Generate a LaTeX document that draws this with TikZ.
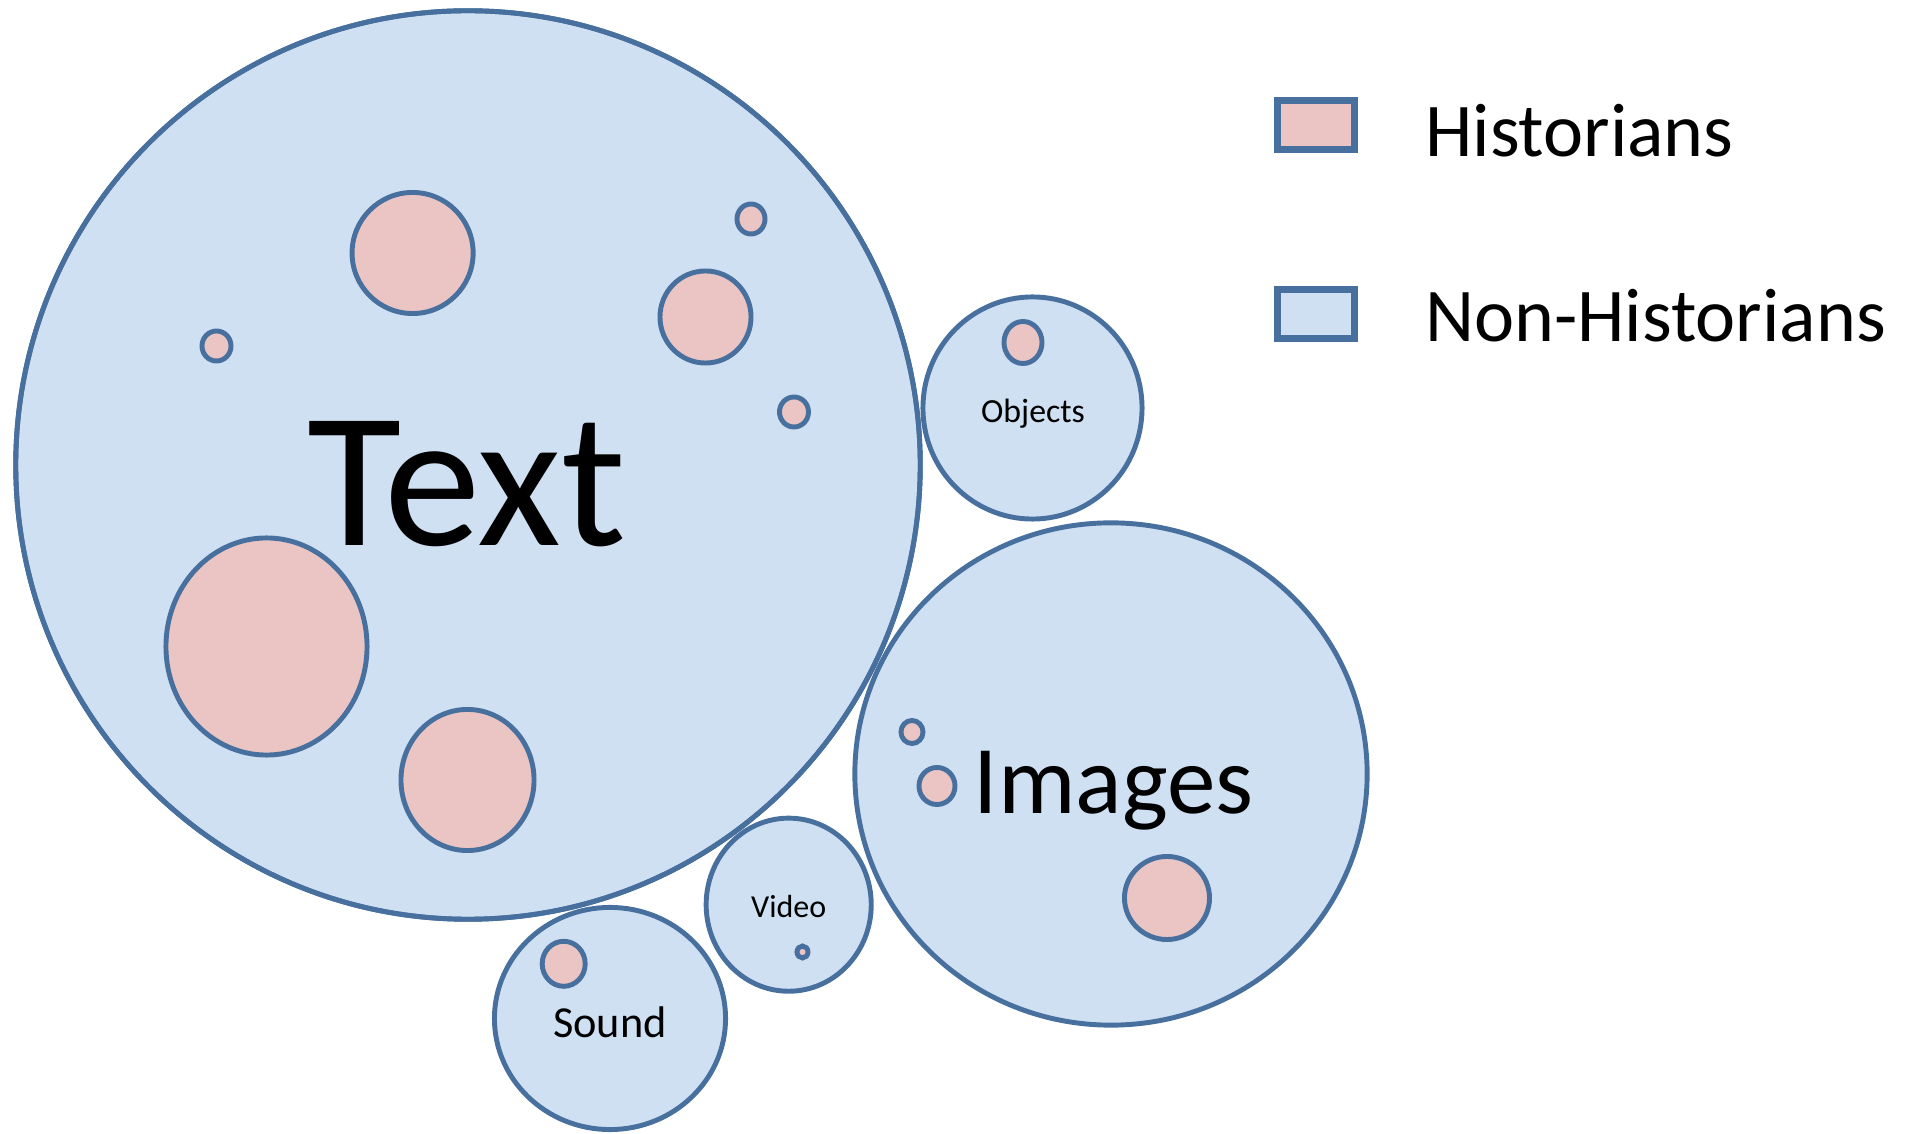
\documentclass[tikz,border=0pt]{standalone}
\usepackage{fontspec}
\setmainfont{Carlito}
\usetikzlibrary{shapes.geometric}
\definecolor{rimblue}{RGB}{72,112,158}
\definecolor{nonhistblue}{RGB}{207,224,242}
\definecolor{histpink}{RGB}{235,197,196}

\begin{document}
\begin{tikzpicture}[x=0.01cm, y=-0.01cm,
      bubble/.style={ellipse, draw=rimblue, line width=1.4pt, inner sep=0pt},
      nonhist/.style={bubble, fill=nonhistblue},
      hist/.style={bubble, fill=histpink},
      keybox/.style={rectangle, draw=rimblue, line width=1.9pt, inner sep=0pt,
          minimum width=0.77cm, minimum height=0.49cm},
      lbl/.style={inner sep=0pt, anchor=base},
      keylbl/.style={inner sep=0pt, anchor=base west, font=\fontsize{21.6pt}{26pt}\selectfont}
    ]
    \useasboundingbox (0,0) rectangle (1914,1134);

    \node[nonhist, minimum width=9.04cm, minimum height=9.08cm] (text) at (468,465) {};
    \node[nonhist, minimum width=2.19cm, minimum height=2.22cm] (objects) at (1032.5,408) {};
    \node[nonhist, minimum width=5.12cm, minimum height=5.02cm] (images) at (1111,774) {};
    \node[nonhist, minimum width=1.65cm, minimum height=1.73cm] (video) at (788.7,904.7) {};
    \node[nonhist, minimum width=2.31cm, minimum height=2.22cm] (sound) at (610,1018.5) {};
    \node[bubble, minimum width=9.04cm, minimum height=9.08cm] (textrim) at (text.center) {};

    \node[hist, minimum width=1.21cm, minimum height=1.21cm] (t1) at (412.6,253) {};
    \node[hist, minimum width=0.91cm, minimum height=0.92cm] (t2) at (705.5,317) {};
    \node[hist, minimum width=0.28cm, minimum height=0.30cm] (t3) at (751,219) {};
    \node[hist, minimum width=0.29cm, minimum height=0.30cm] (t4) at (216.5,346) {};
    \node[hist, minimum width=0.29cm, minimum height=0.30cm] (t5) at (794,412) {};
    \node[hist, minimum width=2.01cm, minimum height=2.17cm] (t6) at (266.5,646.5) {};
    \node[hist, minimum width=1.33cm, minimum height=1.41cm] (t7) at (467.5,780) {};
    \node[hist, minimum width=0.38cm, minimum height=0.42cm] (o1) at (1023,342.5) {};
    \node[hist, minimum width=0.22cm, minimum height=0.23cm] (i1) at (912,732) {};
    \node[hist, minimum width=0.36cm, minimum height=0.37cm] (i2) at (937,786) {};
    \node[hist, minimum width=0.85cm, minimum height=0.83cm] (i3) at (1167,898) {};
    \node[hist, minimum width=0.11cm, minimum height=0.12cm] (v1) at (802.5,952) {};
    \node[hist, minimum width=0.43cm, minimum height=0.45cm] (s1) at (563.7,963.8) {};

    \node[lbl, font=\fontsize{55pt}{60pt}\selectfont] (textlbl) at (467,546) {Text};
    \node[lbl, font=\fontsize{9.6pt}{12pt}\selectfont] (objectslbl) at (1033,423) {Objects};
    \node[lbl, font=\fontsize{27.6pt}{32pt}\selectfont] (imageslbl) at (1113.4,814) {Images};
    \node[lbl, font=\fontsize{9.1pt}{11pt}\selectfont] (videolbl) at (788.7,917.3) {Video};
    \node[lbl, font=\fontsize{12.6pt}{15pt}\selectfont] (soundlbl) at (610,1037.3) {Sound};

    \node[keybox, fill=histpink] (histkey) at (1316,125) {};
    \node[keybox, fill=nonhistblue] (nonhistkey) at (1316,314) {};
    \node[keylbl] (histlbl) at (1424.6,156.2) {Historians};
    \node[keylbl] (nonhistlbl) at (1424.6,341.8) {Non-Historians};
\end{tikzpicture}
\end{document}
